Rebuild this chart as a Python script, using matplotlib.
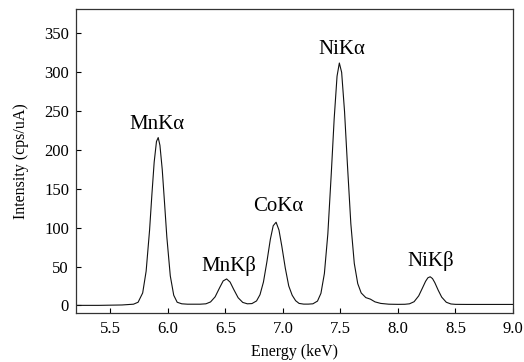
import matplotlib.pyplot as plt

plt.rcParams['font.family'] = ['Liberation Serif', 'DejaVu Serif']

# spectrum (energy in keV, intensity in cps/uA)
energy = [5.20, 5.40, 5.60, 5.65, 5.70, 5.74, 5.78, 5.81, 5.84, 5.86, 5.88, 5.90,
          5.915, 5.93, 5.95, 5.97, 5.99, 6.02, 6.05, 6.08, 6.12, 6.17, 6.22, 6.28,
          6.33, 6.37, 6.41, 6.45, 6.48, 6.51, 6.54, 6.57, 6.61, 6.65, 6.69, 6.73,
          6.77, 6.80, 6.83, 6.86, 6.89, 6.915, 6.94, 6.965, 6.99, 7.02, 7.05, 7.08,
          7.11, 7.14, 7.18, 7.22, 7.26, 7.30, 7.33, 7.36, 7.39, 7.42, 7.445, 7.47,
          7.49, 7.51, 7.535, 7.56, 7.59, 7.62, 7.65, 7.68, 7.72, 7.76, 7.80, 7.85,
          7.92, 8.00, 8.06, 8.10, 8.14, 8.18, 8.21, 8.24, 8.26, 8.28, 8.30, 8.32,
          8.35, 8.38, 8.42, 8.46, 8.50, 8.60, 8.80, 9.00]
intensity = [0.0, 0.0, 0.5, 1.0, 1.5, 4.0, 16.0, 44.0, 97.0, 142.5, 184.5, 211.0,
             216.0, 206.0, 175.0, 132.0, 88.0, 38.0, 13.0, 4.0, 2.0, 1.5, 1.5, 1.5,
             2.0, 4.4, 11.0, 23.0, 31.5, 34.0, 30.0, 21.0, 9.8, 3.8, 2.0, 2.3,
             5.7, 13.7, 30.0, 56.0, 85.0, 102.5, 107.0, 97.0, 76.0, 48.0, 25.0, 13.0,
             6.0, 2.5, 1.6, 1.6, 2.0, 5.5, 15.5, 41.0, 92.0, 170.0, 240.0, 295.0,
             312.0, 300.0, 250.0, 182.0, 105.0, 54.0, 28.0, 16.0, 10.0, 8.0, 4.5, 2.5,
             1.5, 1.3, 1.4, 2.0, 4.7, 12.2, 21.5, 31.0, 35.5, 36.8, 34.5, 29.3,
             19.4, 10.6, 4.0, 1.8, 1.3, 1.2, 1.2, 1.2]

peak_names = ['MnKα', 'MnKβ', 'CoKα', 'NiKα', 'NiKβ']
peak_x = [5.907, 6.527, 6.957, 7.508, 8.284]
peak_y = [227, 44, 121, 323, 51]

fig = plt.figure(figsize=(5.24, 3.62), dpi=100)
ax = fig.add_axes([0.145, 0.135, 0.834, 0.839])

ax.plot(energy, intensity, color='#111111', linewidth=0.8)

for name, x, y in zip(peak_names, peak_x, peak_y):
    ax.text(x, y, name, ha='center', va='baseline', fontsize=15)

ax.set_xlim(5.2, 9.0)
ax.set_ylim(-10, 381)
ax.set_xticks([5.5, 6.0, 6.5, 7.0, 7.5, 8.0, 8.5, 9.0])
ax.set_yticks([0, 50, 100, 150, 200, 250, 300, 350])
ax.tick_params(direction='in', length=3.5, width=0.8, labelsize=12)
ax.tick_params(axis='x', pad=6)
ax.tick_params(axis='y', pad=5)
for s in ax.spines.values():
    s.set_linewidth(0.9)
    s.set_color('#333333')

ax.set_xlabel('Energy (keV)', fontsize=11.5, labelpad=5)
ax.set_ylabel('Intensity (cps/uA)', fontsize=11.5, labelpad=11)

fig.savefig('out.png', dpi=100)
